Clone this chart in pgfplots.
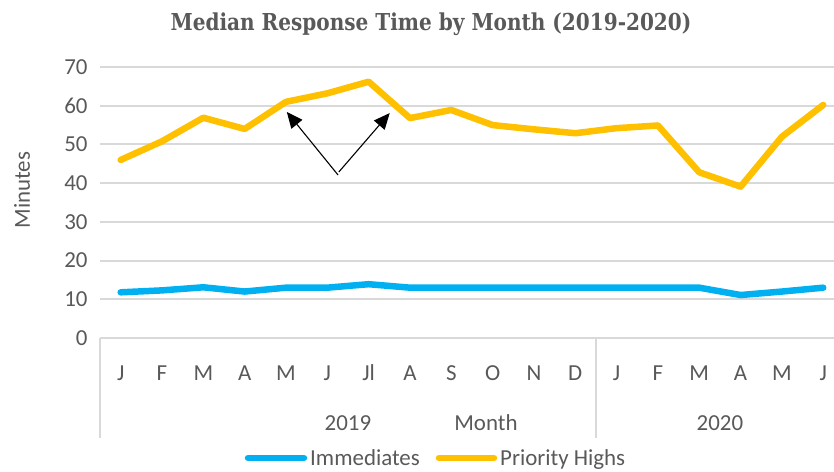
\documentclass[border=0pt]{standalone}
\usepackage{pgfplots}
\pgfplotsset{compat=1.18}
\usetikzlibrary{arrows.meta}
\usepackage{fontspec}
\setmainfont{Carlito}
\newfontfamily\titlefont{DejaVu Serif}[FakeStretch=0.86]

\definecolor{ygold}{HTML}{FFC000}
\definecolor{iblue}{HTML}{00B0F0}
\definecolor{txtgray}{HTML}{595959}
\definecolor{gridgray}{HTML}{D9D9D9}

\begin{document}
\begin{tikzpicture}
\begin{axis}[
    scale only axis,
    width=734bp, height=271bp,
    xmin=-0.5, xmax=17.26,
    ymin=0, ymax=70,
    axis line style={draw=none},
    xtick={0,...,17},
    xticklabels={J,F,M,A,M,J,Jl,A,S,O,N,D,J,F,M,A,M,J},
    ytick={0,10,...,70},
    ymajorgrids,
    grid style={gridgray, line width=2bp},
    major tick length=0pt,
    tick label style={font=\fontsize{23}{26}\selectfont, text=txtgray},
    xticklabel style={anchor=base, yshift=-42bp},
    yticklabel style={anchor=east, xshift=-9bp},
    /pgf/number format/assume math mode=true,
    clip=false,
    every axis plot/.append style={line width=6.5bp, line join=round, line cap=round},
  ]
  % Immediates
  \addplot[iblue] coordinates {
    (0,11.8) (1,12.3) (2,13.1) (3,12) (4,13) (5,13) (6,13.9) (7,13)
    (8,13) (9,13) (10,13) (11,13) (12,13) (13,13) (14,13) (15,11.1)
    (16,12) (17,13)
  };
  % Priority Highs
  \addplot[ygold] coordinates {
    (0,46) (1,50.8) (2,56.9) (3,54) (4,61) (5,63.2) (6,66.2) (7,56.8)
    (8,58.9) (9,55) (10,53.9) (11,52.9) (12,54.2) (13,54.9) (14,42.8)
    (15,39.1) (16,52) (17,60.2)
  };

  % category separators
  \draw[gridgray, line width=2bp] (axis cs:-0.5,0) -- ([yshift=-100bp]axis cs:-0.5,0);
  \draw[gridgray, line width=2bp] (axis cs:11.5,0) -- ([yshift=-100bp]axis cs:11.5,0);

  % year level and axis title
  \begin{scope}[font=\fontsize{23}{26}\selectfont, text=txtgray]
    \node[anchor=base] at ([yshift=-92bp]axis cs:5.5,0) {2019};
    \node[anchor=base] at ([yshift=-92bp]axis cs:8.84,0) {Month};
    \node[anchor=base] at ([yshift=-92bp]axis cs:14.5,0) {2020};
  \end{scope}

  % annotation arrows
  \draw[black, line width=1.1bp, -{Triangle[length=16bp,width=14bp]}]
    (axis cs:5.26,42.1) -- (axis cs:4.02,58.4);
  \draw[black, line width=1.1bp, -{Triangle[length=16bp,width=14bp]}]
    (axis cs:5.28,42.9) -- (axis cs:6.51,58.1);
\end{axis}

% title
\node[font=\titlefont\bfseries\fontsize{23.4}{26}\selectfont, text=txtgray]
  at (331bp,314bp) {Median Response Time by Month (2019-2020)};

% y label
\node[rotate=90, font=\fontsize{23}{26}\selectfont, text=txtgray]
  at (-78bp,148bp) {Minutes};

% legend
\draw[iblue, line width=6.5bp, line cap=round] (148bp,-120bp) -- (204bp,-120bp);
\node[anchor=base west, inner sep=0pt, font=\fontsize{23}{26}\selectfont, text=txtgray]
  at (210bp,-127bp) {Immediates};
\draw[ygold, line width=6.5bp, line cap=round] (339bp,-120bp) -- (394bp,-120bp);
\node[anchor=base west, inner sep=0pt, font=\fontsize{23}{26}\selectfont, text=txtgray]
  at (400bp,-127bp) {Priority Highs};

\pgfresetboundingbox
\path[use as bounding box] (-100bp,-134bp) rectangle (734bp,338bp);
\end{tikzpicture}
\end{document}
